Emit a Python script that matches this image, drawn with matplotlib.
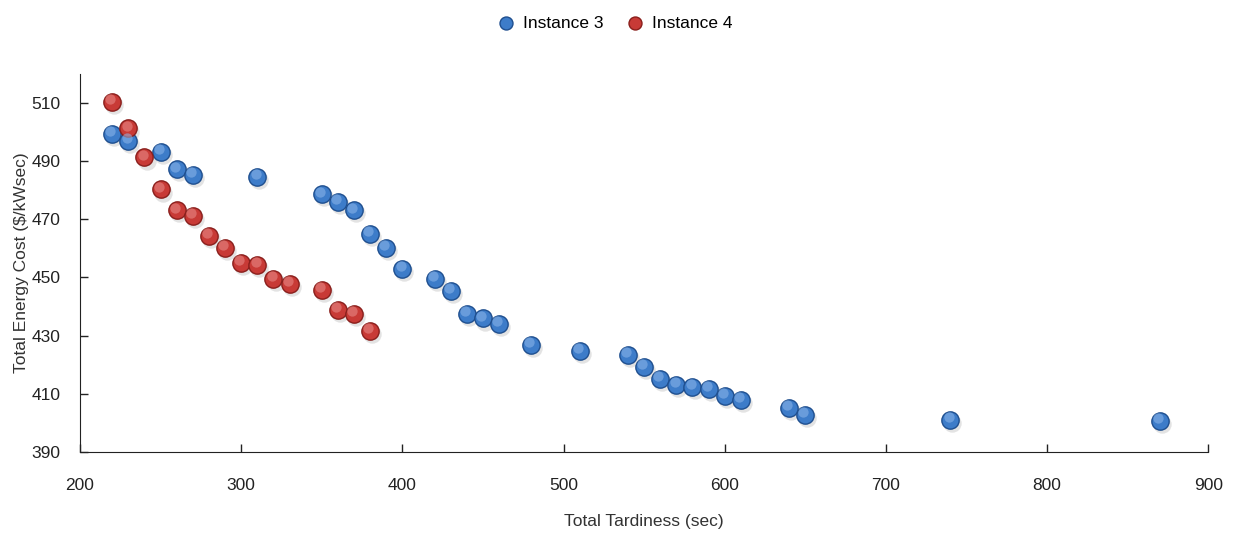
import matplotlib
matplotlib.use("Agg")
import matplotlib.pyplot as plt
from matplotlib.transforms import offset_copy

### Daten
inst3_x = [220, 230, 250, 260, 270, 310, 350, 360, 370, 380, 390, 400, 420, 430,
           440, 450, 460, 480, 510, 540, 550, 560, 570, 580, 590, 600, 610, 640,
           650, 740, 870]
inst3_y = [499.4, 497.0, 493.2, 487.3, 485.3, 484.6, 478.7, 476.0, 473.2, 465.0,
           460.2, 453.0, 449.5, 445.4, 437.5, 436.0, 434.0, 426.8, 424.7, 423.4,
           419.2, 415.1, 413.0, 412.4, 411.7, 409.3, 407.9, 405.1, 402.7, 401.0,
           400.7]
inst4_x = [220, 230, 240, 250, 260, 270, 280, 290, 300, 310, 320, 330, 350, 360,
           370, 380]
inst4_y = [510.4, 501.4, 491.4, 480.4, 473.2, 471.2, 464.3, 460.2, 455.0, 454.3,
           449.5, 447.8, 445.7, 438.8, 437.5, 431.6]
x_ticks = [200, 300, 400, 500, 600, 700, 800, 900]
y_ticks = [390, 410, 430, 450, 470, 490, 510]

plt.rcParams["font.family"] = ["Liberation Sans", "DejaVu Sans"]

fig = plt.figure(figsize=(12.33, 5.36), dpi=100)
ax = fig.add_axes([0.0649, 0.157, 0.915, 0.705])


def kugel(x, y, farbe, dunkel, hell, label):
    # Schatten, Kugel, Glanzpunkt
    sh = offset_copy(ax.transData, fig=fig, x=1.5, y=-2.5, units="points")
    ax.scatter(x, y, s=175, color="#b0b0b0", alpha=0.35, lw=0, transform=sh, zorder=2)
    ax.scatter(x, y, s=155, color=farbe, edgecolors=dunkel, linewidths=1.0,
               zorder=3, label=label)
    hl = offset_copy(ax.transData, fig=fig, x=-1.3, y=1.8, units="points")
    ax.scatter(x, y, s=55, color=hell, alpha=0.55, lw=0, transform=hl, zorder=4)


kugel(inst3_x, inst3_y, "#3d7cc9", "#1f4f8f", "#8fb8ea", "Instance 3")
kugel(inst4_x, inst4_y, "#c83a36", "#8a1f1c", "#ea8f8c", "Instance 4")

ax.set_xlim(200, 900)
ax.set_ylim(390, 520)
ax.set_xticks(x_ticks)
ax.set_yticks(y_ticks)
ax.tick_params(direction="in", length=6, width=1, labelsize=12.5, colors="#222222")
ax.tick_params(axis="x", pad=19)
ax.tick_params(axis="y", pad=14)
ax.spines["top"].set_visible(False)
ax.spines["right"].set_visible(False)
ax.spines["left"].set_color("#222222")
ax.spines["bottom"].set_color("#222222")
ax.set_xlabel("Total Tardiness (sec)", fontsize=12.5, color="#333333", labelpad=15)
ax.set_ylabel("Total Energy Cost ($/kWsec)", fontsize=12.5, color="#333333", labelpad=2)

fig.legend(loc="upper center", bbox_to_anchor=(0.495, 1.0), ncol=2, frameon=False,
           fontsize=12.5, handletextpad=0.0, columnspacing=0.8, markerscale=0.75)

fig.savefig("out.png", dpi=100)
